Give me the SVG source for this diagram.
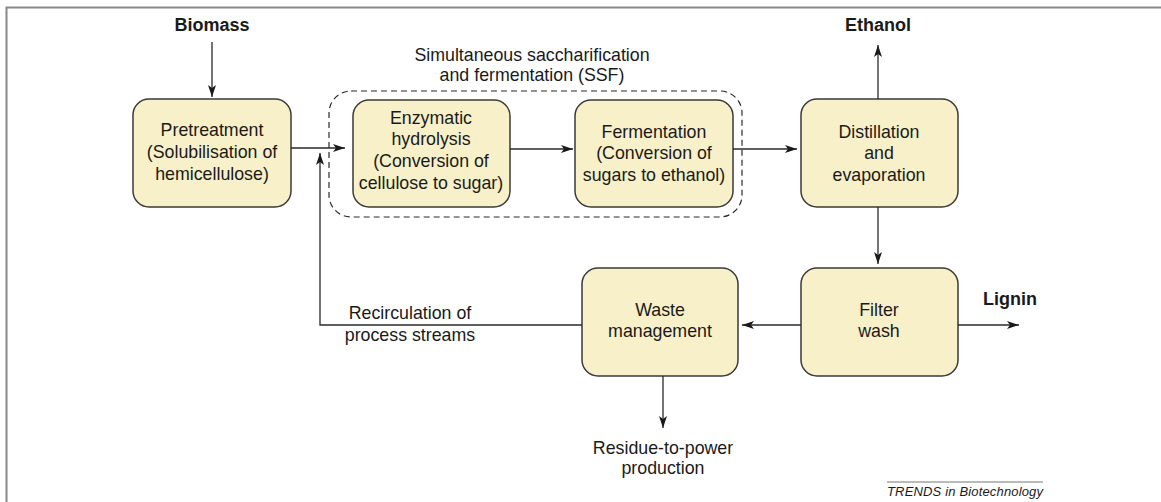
<svg xmlns="http://www.w3.org/2000/svg" width="1161" height="502" viewBox="0 0 1161 502">
<style>
.box{fill:#f8f0c9;stroke:#3a3a3a;stroke-width:1.5}
.t{font-family:"Liberation Sans",Arial,sans-serif;font-size:17.8px;fill:#1a1a1a;text-anchor:middle}
.b{font-weight:bold;font-size:18px}
.c{fill:none;stroke:#2a2a2a;stroke-width:1.3}
</style>
<defs>
<marker id="ah" viewBox="0 0 12 8" refX="12" refY="4" markerWidth="12" markerHeight="8" markerUnits="userSpaceOnUse" orient="auto">
<path d="M0,0 L12,4 L0,8 L3,4 Z" fill="#1a1a1a"/>
</marker>
</defs>
<rect width="1161" height="502" fill="#fff"/>
<path d="M6.5,502 V7.5 H1161" fill="none" stroke="#888" stroke-width="2"/>

<g id="labels">
<text class="t b" x="212" y="31">Biomass</text>
<text class="t b" x="878" y="31">Ethanol</text>
<text class="t b" x="1010" y="305">Lignin</text>
<text class="t" x="532" y="61">Simultaneous saccharification</text>
<text class="t" x="532" y="81">and fermentation (SSF)</text>
<text class="t" x="410" y="319">Recirculation of</text>
<text class="t" x="410" y="341">process streams</text>
<text class="t" x="663" y="454">Residue-to-power</text>
<text class="t" x="663" y="474">production</text>
</g>

<g id="ssf-group">
<rect x="329" y="91" width="413" height="126" rx="22" fill="none" stroke="#2a2a2a" stroke-width="1.2" stroke-dasharray="6,4"/>
</g>

<g id="pretreatment">
<rect class="box" x="133" y="99" width="158" height="108" rx="16"/>
<text class="t" x="212" y="136">Pretreatment</text>
<text class="t" x="212" y="158">(Solubilisation of</text>
<text class="t" x="212" y="180">hemicellulose)</text>
</g>

<g id="enzymatic">
<rect class="box" x="353" y="100" width="157" height="107" rx="16"/>
<text class="t" x="431" y="124">Enzymatic</text>
<text class="t" x="431" y="145">hydrolysis</text>
<text class="t" x="431" y="167">(Conversion of</text>
<text class="t" x="431" y="189">cellulose to sugar)</text>
</g>

<g id="fermentation">
<rect class="box" x="575" y="100" width="158" height="107" rx="16"/>
<text class="t" x="654" y="138">Fermentation</text>
<text class="t" x="654" y="159">(Conversion of</text>
<text class="t" x="654" y="181">sugars to ethanol)</text>
</g>

<g id="distillation">
<rect class="box" x="801" y="99" width="157" height="108" rx="16"/>
<text class="t" x="879" y="138">Distillation</text>
<text class="t" x="879" y="159">and</text>
<text class="t" x="879" y="181">evaporation</text>
</g>

<g id="filter">
<rect class="box" x="801" y="268" width="157" height="108" rx="16"/>
<text class="t" x="879" y="316">Filter</text>
<text class="t" x="879" y="337">wash</text>
</g>

<g id="waste">
<rect class="box" x="582" y="268" width="156" height="108" rx="16"/>
<text class="t" x="660" y="316">Waste</text>
<text class="t" x="660" y="337">management</text>
</g>

<g id="trends">
<line x1="887" y1="482" x2="1043" y2="482" stroke="#777" stroke-width="1"/>
<text x="887" y="496" font-family="'Liberation Sans',Arial,sans-serif" font-size="13" font-style="italic" fill="#1a1a1a" textLength="156">TRENDS in Biotechnology</text>
</g>

<g id="connectors">
<line class="c" x1="212" y1="42" x2="212" y2="97" marker-end="url(#ah)"/>
<line class="c" x1="291" y1="148" x2="345" y2="148" marker-end="url(#ah)"/>
<line class="c" x1="510" y1="149" x2="573" y2="149" marker-end="url(#ah)"/>
<line class="c" x1="733" y1="149" x2="797" y2="149" marker-end="url(#ah)"/>
<line class="c" x1="878" y1="99" x2="878" y2="45" marker-end="url(#ah)"/>
<line class="c" x1="878" y1="207" x2="878" y2="264" marker-end="url(#ah)"/>
<line class="c" x1="958" y1="325" x2="1019" y2="325" marker-end="url(#ah)"/>
<line class="c" x1="801" y1="325" x2="742" y2="325" marker-end="url(#ah)"/>
<path class="c" d="M582,325 H320 V153" marker-end="url(#ah)"/>
<line class="c" x1="663" y1="376" x2="663" y2="428" marker-end="url(#ah)"/>
</g>
</svg>
